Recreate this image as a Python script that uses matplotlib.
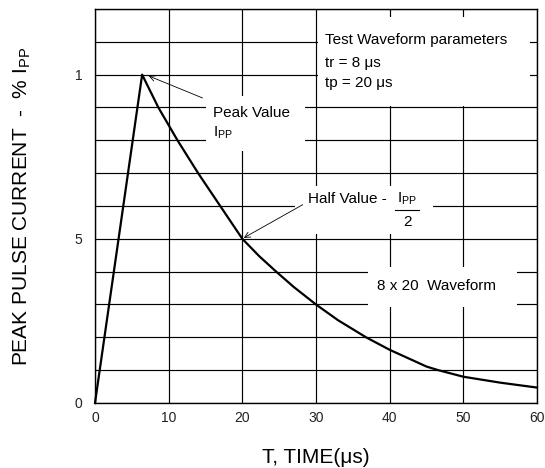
import matplotlib
matplotlib.use('Agg')
import matplotlib.pyplot as plt
from matplotlib.patches import Rectangle

plt.rcParams['font.family'] = ['Liberation Sans', 'DejaVu Sans']
plt.rcParams['mathtext.fontset'] = 'custom'
plt.rcParams['mathtext.rm'] = 'Liberation Sans'
plt.rcParams['mathtext.it'] = 'Liberation Sans'

# 8x20 waveform (time in us, % of Ipp)
t_us = [0, 6.4, 8.6, 11.2, 14.0, 17.0, 20, 22.3, 24.6, 27, 30, 33,
        36.8, 40, 45, 46.6, 50, 55, 60]
current_pct = [0, 100, 90, 80, 70, 60, 50, 44.7, 40, 35.3, 30, 25.2,
               20, 16.2, 11.1, 10, 8.0, 6.2, 4.7]

x_ticks = [0, 10, 20, 30, 40, 50, 60]
x_tick_labels = ['0', '10', '20', '30', '40', '50', '60']
y_ticks = [0, 10, 20, 30, 40, 50, 60, 70, 80, 90, 100, 110, 120]
y_tick_labels = ['0', '', '', '', '', '5', '', '', '', '', '1', '', '']

fig = plt.figure(figsize=(5.45, 4.68), dpi=100)
ax = fig.add_axes([0.1743, 0.1389, 0.8110, 0.8419])

ax.set_xlim(0, 60)
ax.set_ylim(0, 120)
ax.set_xticks(x_ticks)
ax.set_xticklabels(x_tick_labels)
ax.set_yticks(y_ticks)
ax.set_yticklabels(y_tick_labels)
ax.tick_params(length=0, labelsize=10, colors='#222222')
ax.tick_params(axis='x', pad=6)
ax.tick_params(axis='y', pad=9)
ax.grid(True, color='black', lw=0.85)
ax.set_axisbelow(True)
for s in ax.spines.values():
    s.set_linewidth(1.0)

# white boxes that break the grid behind the labels
for (x0, y0, w, h) in [(30.3, 90.4, 28.8, 27.3), (15.1, 76.6, 13.4, 16.8),
                       (27.2, 51.5, 18.7, 14.6), (37.0, 29.3, 20.3, 12.2)]:
    ax.add_patch(Rectangle((x0, y0), w, h, facecolor='white', edgecolor='none', zorder=1))

ax.plot(t_us, current_pct, color='black', lw=1.6, zorder=3, clip_on=False)

ax.text(31.2, 110.7, 'Test Waveform parameters', fontsize=11, va='center', zorder=4)
ax.text(31.2, 103.7, 'tr = 8 μs', fontsize=11, va='center', zorder=4)
ax.text(31.2, 97.4, 'tp = 20 μs', fontsize=11, va='center', zorder=4)

ax.text(16.0, 88.4, 'Peak Value', fontsize=11, va='center', zorder=4)
ax.text(16.0, 82.3, r'I$_{\mathregular{PP}}$', fontsize=11, va='center', zorder=4)
ax.annotate('', xy=(7.3, 99.6), xytext=(14.6, 92.9),
            arrowprops=dict(arrowstyle='->', lw=0.6, color='black', shrinkA=0, shrinkB=0),
            zorder=4)

ax.text(28.9, 62.1, 'Half Value - ', fontsize=11, va='center', zorder=4)
ax.text(42.4, 62.1, r'I$_{\mathregular{PP}}$', fontsize=11, va='center', ha='center', zorder=4)
ax.plot([40.7, 44.0], [58.8, 58.8], color='black', lw=0.8, zorder=4)
ax.text(42.4, 55.0, '2', fontsize=11, va='center', ha='center', zorder=4)
ax.annotate('', xy=(20.2, 50.3), xytext=(28.2, 60.4),
            arrowprops=dict(arrowstyle='->', lw=0.6, color='black', shrinkA=0, shrinkB=0),
            zorder=4)

ax.text(46.4, 35.5, '8 x 20  Waveform', fontsize=11, va='center', ha='center', zorder=4)

ax.set_xlabel('T, TIME(μs)', fontsize=15, labelpad=16)
ax.set_ylabel(r'PEAK PULSE CURRENT  -  % I$_{\mathregular{PP}}$', fontsize=15, labelpad=30)

fig.savefig('out.png', dpi=100)
